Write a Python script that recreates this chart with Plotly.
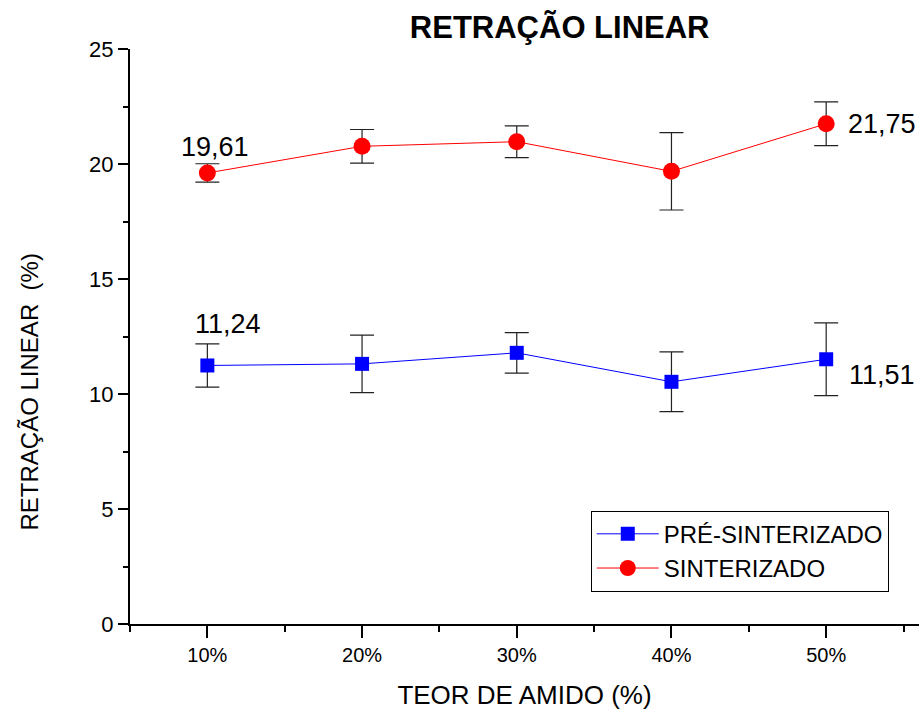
import plotly.graph_objects as go

categories = ["10%", "20%", "30%", "40%", "50%"]
x_pos = [1, 2, 3, 4, 5]
pre_sint = [11.24, 11.31, 11.79, 10.53, 11.51]
pre_sint_err = [0.94, 1.25, 0.88, 1.30, 1.58]
sint = [19.61, 20.77, 20.97, 19.68, 21.75]
sint_err = [0.40, 0.73, 0.69, 1.68, 0.95]

FONT = "Liberation Sans, Arial, sans-serif"

fig = go.Figure()
fig.add_trace(go.Scatter(
    x=x_pos, y=pre_sint, name="PRÉ-SINTERIZADO", mode="lines+markers",
    line=dict(color="#0000ff", width=1),
    marker=dict(symbol="square", size=14, color="#0000ff"),
    error_y=dict(type="data", array=pre_sint_err, visible=True, color="#222222",
                 thickness=1.2, width=12),
))
fig.add_trace(go.Scatter(
    x=x_pos, y=sint, name="SINTERIZADO", mode="lines+markers",
    line=dict(color="#ff0000", width=1),
    marker=dict(symbol="circle", size=17, color="#ff0000"),
    error_y=dict(type="data", array=sint_err, visible=True, color="#222222",
                 thickness=1.2, width=12),
))

def fmt(v):
    return f"{v:.2f}".replace(".", ",")

anns = [
    dict(x=x_pos[0], y=sint[0], text=fmt(sint[0]), xshift=8, yshift=26),
    dict(x=x_pos[0], y=pre_sint[0], text=fmt(pre_sint[0]), xshift=21, yshift=41),
    dict(x=x_pos[-1], y=sint[-1], text=fmt(sint[-1]), xshift=56, yshift=0),
    dict(x=x_pos[-1], y=pre_sint[-1], text=fmt(pre_sint[-1]), xshift=56, yshift=-16),
]
for a in anns:
    fig.add_annotation(xref="x", yref="y", showarrow=False,
                       font=dict(family=FONT, size=27, color="black"), **a)

# y-axis title placed as rotated annotation
fig.add_annotation(xref="paper", yref="paper", x=-0.127, y=0.404,
                   text="RETRAÇÃO LINEAR\u00a0 (%)", textangle=-90, showarrow=False,
                   xanchor="center", yanchor="middle",
                   font=dict(family=FONT, size=24, color="black"))

fig.update_layout(
    width=919, height=710,
    margin=dict(l=130, r=0, t=49, b=86),
    paper_bgcolor="white", plot_bgcolor="white",
    title=dict(text="<b>RETRAÇÃO LINEAR</b>", x=0.609, xanchor="center",
               y=0.962, yanchor="middle",
               font=dict(family=FONT, size=31, color="black")),
    font=dict(family=FONT, color="black"),
    showlegend=True,
    legend=dict(x=0.584, y=0.197, xanchor="left", yanchor="top",
                bgcolor="white", bordercolor="black", borderwidth=1,
                font=dict(family=FONT, size=24, color="black"),
                tracegroupgap=0, itemwidth=62),
)
fig.update_xaxes(
    range=[0.5, 5.6], tickvals=x_pos, ticktext=categories,
    showline=True, linecolor="black", linewidth=2, mirror=False,
    ticks="outside", ticklen=12, tickwidth=2, tickcolor="black",
    minor=dict(tickvals=[0.5, 1.5, 2.5, 3.5, 4.5, 5.5], ticklen=6,
               tickwidth=2, tickcolor="black", ticks="outside"),
    showgrid=False, zeroline=False,
    tickfont=dict(family=FONT, size=20, color="black"),
    title=dict(text="TEOR DE AMIDO (%)", font=dict(family=FONT, size=26, color="black"),
               standoff=24),
)
fig.update_yaxes(
    range=[0, 25], tickvals=[0, 5, 10, 15, 20, 25],
    showline=True, linecolor="black", linewidth=2,
    ticks="outside", ticklen=10, tickwidth=2, tickcolor="black",
    minor=dict(tickvals=[2.5, 7.5, 12.5, 17.5, 22.5], ticklen=5,
               tickwidth=2, tickcolor="black", ticks="outside"),
    showgrid=False, zeroline=False,
    tickfont=dict(family=FONT, size=22, color="black"),
)

fig.write_html("out.html")
